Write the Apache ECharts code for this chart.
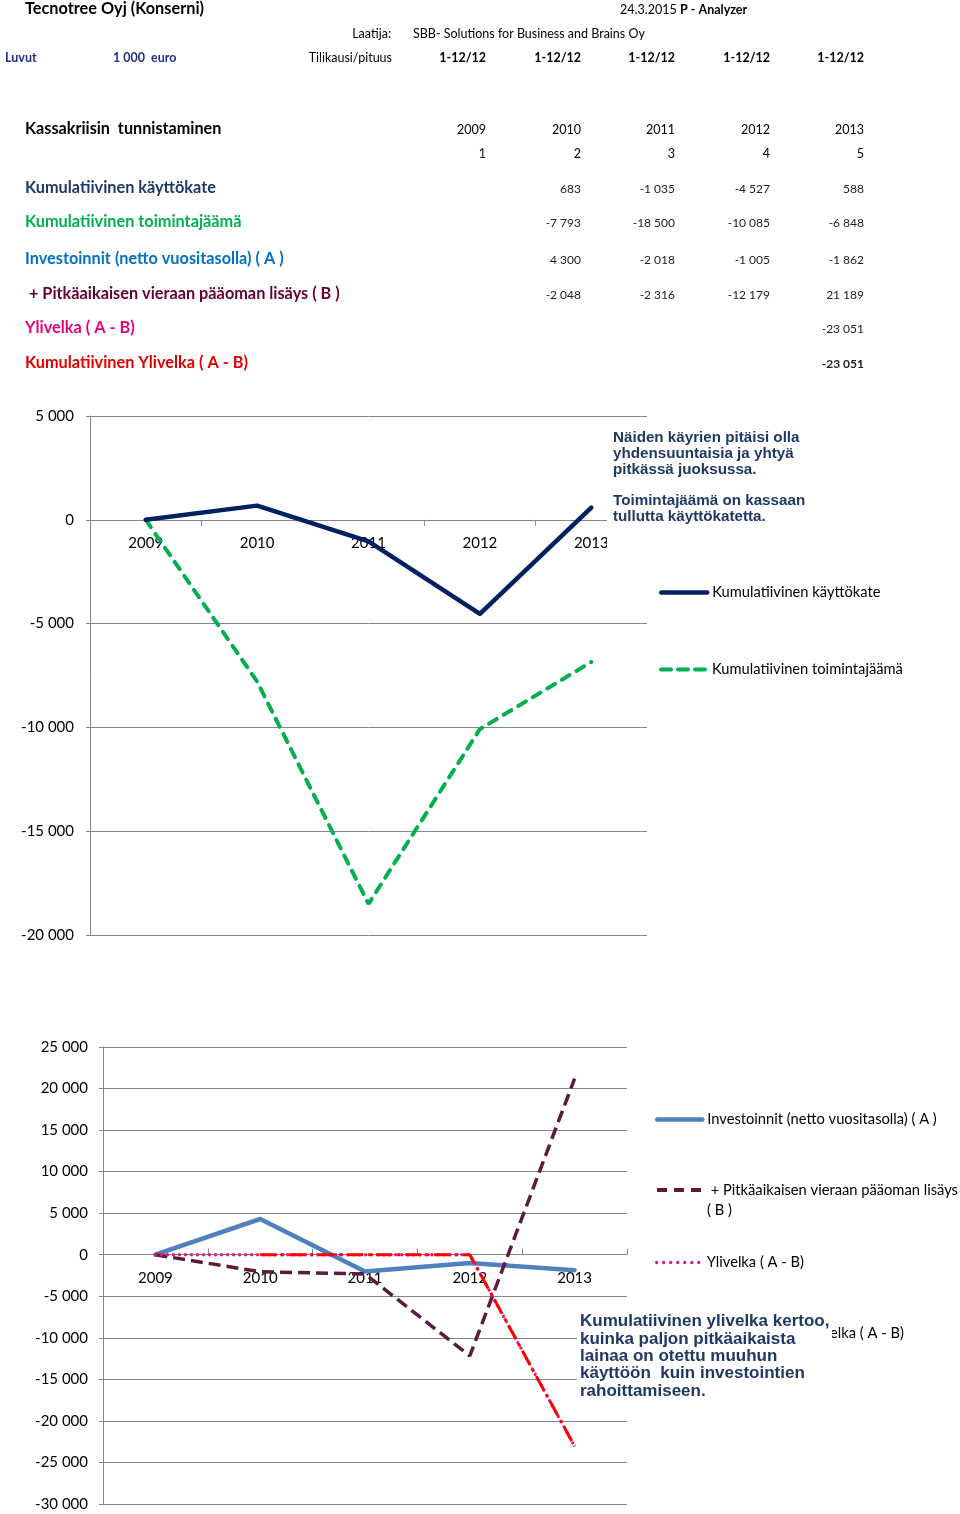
<!DOCTYPE html>
<html><head><meta charset="utf-8">
<script src="https://cdn.jsdelivr.net/npm/echarts@6/dist/echarts.min.js"></script>
<style>html,body{margin:0;padding:0;background:#fff}#c{width:960px;height:1514px}</style>
</head><body><div id="c"></div>
<script>
// ---------- data ----------
const years = ['2009', '2010', '2011', '2012', '2013'];
const yearIndex = ['1', '2', '3', '4', '5'];
const periods = ['1-12/12', '1-12/12', '1-12/12', '1-12/12', '1-12/12'];
const kayttokate = [0, 683, -1035, -4527, 588];
const toimintajaama = [0, -7793, -18500, -10085, -6848];
const investoinnit = [0, 4300, -2018, -1005, -1862];
const pitkaaikainen = [0, -2048, -2316, -12179, 21189];
const ylivelka = [0, 0, 0, 0, -23051];
const kumYlivelka = ['-', 0, 0, 0, -23051];
const axis1 = [-20000, 5000, 5000];   // min, max, interval
const axis2 = [-30000, 25000, 5000];

const names = {
  kk: 'Kumulatiivinen käyttökate',
  tj: 'Kumulatiivinen toimintajäämä',
  inv: 'Investoinnit (netto vuositasolla) ( A )',
  pit: ' + Pitkäaikaisen vieraan pääoman lisäys ( B )',
  yl: 'Ylivelka ( A - B)',
  kyl: 'Kumulatiivinen Ylivelka ( A - B)'
};

// ---------- helpers ----------
function fmt(v) {
  const s = Math.abs(v).toString().replace(/\B(?=(\d{3})+(?!\d))/g, ' ');
  return (v < 0 ? '-' : '') + s;
}
const CAL = 'Lato, "Open Sans", sans-serif';
const ARIAL = '"Liberation Sans", Arial, sans-serif';
function T(text, x, y, o) {
  o = o || {};
  return {
    type: 'text', z: o.z || 50, silent: true,
    style: {
      text: text, x: x, y: y,
      fill: o.color || '#000',
      font: (o.weight || 'normal') + ' ' + (o.size || 13) + 'px ' + (o.family || CAL),
      textAlign: o.align || 'left',
      textVerticalAlign: o.va || 'middle',
      lineHeight: o.lh
    }
  };
}

const colRight = [486, 581, 675, 770, 864];
const g = [];
// header
g.push(T('Tecnotree Oyj (Konserni)', 25, 9, {weight: 'bold', size: 16.3}));
g.push(T('24.3.2015', 620, 10, {size: 12.5}));
g.push(T('P - Analyzer', 680, 10, {weight: 'bold', size: 12.5}));
g.push(T('Laatija:', 391, 34, {size: 12.5, align: 'right'}));
g.push(T('SBB- Solutions for Business and Brains Oy', 413, 34, {size: 12.5}));
g.push(T('Luvut', 5, 58, {size: 12.5, color: '#1F2F8A', weight: 'bold'}));
g.push(T('1 000  euro', 113, 58, {size: 12.5, color: '#1F2F8A', weight: 'bold'}));
g.push(T('Tilikausi/pituus', 392, 58, {size: 12.5, align: 'right'}));
periods.forEach((p, i) => g.push(T(p, colRight[i], 58, {size: 12.5, weight: 'bold', align: 'right'})));
// table
g.push(T('Kassakriisin  tunnistaminen', 25, 129, {weight: 'bold', size: 16.2}));
years.forEach((p, i) => g.push(T(p, colRight[i], 130, {size: 12.5, align: 'right'})));
yearIndex.forEach((p, i) => g.push(T(p, colRight[i], 154, {size: 12.5, align: 'right'})));
const rows = [
  {name: names.kk, color: '#1F3864', data: kayttokate, from: 1, y: 188},
  {name: names.tj, color: '#00B050', data: toimintajaama, from: 1, y: 222},
  {name: names.inv, color: '#0070C0', data: investoinnit, from: 1, y: 259},
  {name: names.pit, color: '#660033', data: pitkaaikainen, from: 1, y: 294},
  {name: names.yl, color: '#E6007E', data: ylivelka, from: 4, y: 328},
  {name: names.kyl, color: '#E00000', data: kumYlivelka, from: 4, y: 363, boldVal: true}
];
rows.forEach(r => {
  g.push(T(r.name, 25, r.y, {weight: 'bold', size: 16.3, color: r.color}));
  r.data.forEach((v, i) => {
    if (i >= r.from && typeof v === 'number') {
      g.push(T(fmt(v), colRight[i], r.y + 1, {size: 12, align: 'right', weight: r.boldVal ? 'bold' : 'normal', color: '#222'}));
    }
  });
});
// annotation boxes
g.push({type: 'rect', z: 100, silent: true, shape: {x: 607, y: 426, width: 215, height: 126}, style: {fill: '#fff'}});
g.push(T('Näiden käyrien pitäisi olla\nyhdensuuntaisia ja yhtyä\npitkässä juoksussa.', 613, 429.5,
  {weight: 'bold', size: 15.2, family: ARIAL, color: '#1F3864', va: 'top', lh: 16, z: 101}));
g.push(T('Toimintajäämä on kassaan\ntullutta käyttökatetta.', 613, 492.5,
  {weight: 'bold', size: 15.2, family: ARIAL, color: '#1F3864', va: 'top', lh: 16, z: 101}));
g.push({type: 'rect', z: 100, silent: true, shape: {x: 577, y: 1310, width: 255, height: 92}, style: {fill: '#fff'}});
g.push(T('Kumulatiivinen ylivelka kertoo,\nkuinka paljon pitkäaikaista\nlainaa on otettu muuhun\nkäyttöön  kuin investointien\nrahoittamiseen.', 580, 1313,
  {weight: 'bold', size: 17, family: ARIAL, color: '#1F3864', va: 'top', lh: 17.3, z: 101}));

const gridCol = '#868686';
const grids = [
  {left: 90, top: 416, width: 557, height: 519},
  {left: 103, top: 1047, width: 524, height: 457}
];
function yAx(gi, r, margin) {
  return {
    type: 'value', gridIndex: gi, min: r[0], max: r[1], interval: r[2],
    axisLine: {show: true, lineStyle: {color: gridCol}},
    axisTick: {show: true, length: 4, lineStyle: {color: gridCol}},
    splitLine: {lineStyle: {color: gridCol, width: 1}},
    axisLabel: {fontFamily: CAL, fontSize: 15, color: '#000', margin: margin, formatter: v => fmt(v)}
  };
}
// category axis placed at the value 0 of its grid's value axis
function xAx(gi, r, inside) {
  const zeroOffset = -grids[gi].height * (0 - r[0]) / (r[1] - r[0]);
  return {
    type: 'category', gridIndex: gi, data: years, boundaryGap: true,
    position: 'bottom', offset: zeroOffset,
    axisLine: {onZero: false, lineStyle: {color: gridCol}},
    axisTick: {show: true, length: 6, inside: inside, lineStyle: {color: gridCol}},
    axisLabel: {fontFamily: CAL, fontSize: 15, color: '#000', margin: 16}
  };
}
function leg(name, left, top, lineStyle, extra) {
  return Object.assign({
    data: [name], orient: 'vertical', left: left, top: top, itemWidth: 46, itemHeight: 14,
    padding: 0, selectedMode: false,
    itemStyle: {opacity: 0},
    lineStyle: lineStyle,
    textStyle: {fontFamily: CAL, fontSize: 14.7, color: '#000'}
  }, extra || {});
}

const S = {
  kk: {color: '#002060', width: 4.5, cap: 'round', join: 'round'},
  tj: {color: '#00B050', width: 4, type: [9, 8], cap: 'round'},
  inv: {color: '#4F81BD', width: 4.5, cap: 'round', join: 'round'},
  pit: {color: '#5E1A3C', width: 3.5, type: [12, 6], cap: 'butt'},
  yl: {color: '#E0197A', width: 3.3, type: [0.01, 6], cap: 'round'},
  kyl: {color: '#FF0000', width: 3, type: [16, 5, 3, 5], cap: 'butt'}
};

const option = {
  animation: false,
  backgroundColor: '#fff',
  grid: grids,
  xAxis: [xAx(0, axis1, false), xAx(1, axis2, true)],
  yAxis: [yAx(0, axis1, 16), yAx(1, axis2, 15)],
  legend: [
    leg(names.kk, 659, 585, S.kk),
    leg(names.tj, 659, 662, Object.assign({}, S.tj, {type: [10, 7]})),
    leg(names.inv, 655, 1112, S.inv, {itemWidth: 45}),
    leg(names.pit, 655, 1160, Object.assign({}, S.pit, {width: 4, type: [10, 7]}), {itemWidth: 45,
      formatter: () => '\n + Pitkäaikaisen vieraan pääoman lisäys\n( B )',
      textStyle: {fontFamily: CAL, fontSize: 14.7, color: '#000', lineHeight: 20}}),
    leg(names.yl, 655, 1255, Object.assign({}, S.yl, {type: [0.01, 7]}), {itemWidth: 45}),
    leg(names.kyl, 655, 1326, S.kyl, {itemWidth: 45})
  ],
  series: [
    {type: 'line', name: names.kk, xAxisIndex: 0, yAxisIndex: 0, data: kayttokate, symbol: 'none',
      itemStyle: {color: S.kk.color}, lineStyle: S.kk, z: 4},
    {type: 'line', name: names.tj, xAxisIndex: 0, yAxisIndex: 0, data: toimintajaama, symbol: 'none',
      itemStyle: {color: S.tj.color}, lineStyle: S.tj, z: 3},
    {type: 'line', name: names.inv, xAxisIndex: 1, yAxisIndex: 1, data: investoinnit, symbol: 'none',
      itemStyle: {color: S.inv.color}, lineStyle: S.inv, z: 2},
    {type: 'line', name: names.pit, xAxisIndex: 1, yAxisIndex: 1, data: pitkaaikainen, symbol: 'none',
      itemStyle: {color: S.pit.color}, lineStyle: S.pit, z: 3},
    {type: 'line', name: names.yl, xAxisIndex: 1, yAxisIndex: 1, data: ylivelka, symbol: 'none',
      itemStyle: {color: S.yl.color}, lineStyle: S.yl, z: 4},
    {type: 'line', name: names.kyl, xAxisIndex: 1, yAxisIndex: 1, data: kumYlivelka, symbol: 'none',
      itemStyle: {color: S.kyl.color}, lineStyle: S.kyl, z: 5}
  ],
  graphic: g
};
const chart = echarts.init(document.getElementById('c'), null, {renderer: 'canvas'});
chart.setOption(option);
</script></body></html>
